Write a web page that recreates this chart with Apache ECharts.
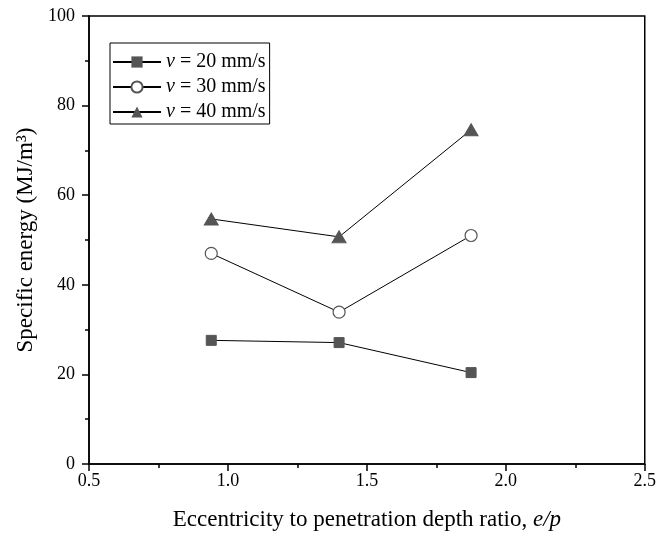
<!DOCTYPE html>
<html>
<head>
<meta charset="utf-8">
<script src="https://cdn.jsdelivr.net/npm/echarts@6/dist/echarts.min.js"></script>
<style>html,body{margin:0;padding:0;background:#fff}#c{width:659px;height:536px}</style>
</head>
<body>
<div id="c"></div>
<script>
const xValues = [0.94, 1.40, 1.875];
const v20 = [27.6, 27.1, 20.4];
const v30 = [47.0, 33.9, 51.0];
const v40 = [54.7, 50.7, 74.6];
const seriesNames = ['v = 20 mm/s', 'v = 30 mm/s', 'v = 40 mm/s'];
const xTicks = [0.5, 1.0, 1.5, 2.0, 2.5];
const yTicks = [0, 20, 40, 60, 80, 100];

const FONT = '"Liberation Serif", "Times New Roman", serif';
const chart = echarts.init(document.getElementById('c'), null, {renderer: 'canvas'});

function pairs(ys) { return ys.map((y, i) => [xValues[i], y]); }

const markerColor = '#555555';
const axisCommon = {
  axisLine: {show: true, lineStyle: {color: '#000', width: 1.5}},
  axisTick: {show: true, inside: false, length: 7, lineStyle: {color: '#000', width: 1.5}},
  minorTick: {show: true, splitNumber: 2, length: 4, lineStyle: {color: '#000', width: 1.5}},
  splitLine: {show: false},
  axisLabel: {color: '#000', fontFamily: FONT, fontSize: 18}
};

chart.setOption({
  animation: false,
  backgroundColor: '#fff',
  grid: {left: 89, right: 14, top: 16, bottom: 72, show: true, borderColor: '#000', borderWidth: 1.5, containLabel: false},
  xAxis: Object.assign({}, axisCommon, {
    type: 'value', min: xTicks[0], max: xTicks[xTicks.length - 1], interval: 0.5,
    axisLabel: Object.assign({}, axisCommon.axisLabel, {margin: 8, formatter: v => v.toFixed(1)}),
    name: 'Eccentricity to penetration depth ratio, {i|e/p}',
    nameLocation: 'middle', nameGap: 44,
    nameTextStyle: {color: '#000', fontFamily: FONT, fontSize: 23,
      rich: {i: {fontStyle: 'italic', fontFamily: FONT, fontSize: 23, color: '#000'}}}
  }),
  yAxis: Object.assign({}, axisCommon, {
    type: 'value', min: yTicks[0], max: yTicks[yTicks.length - 1], interval: 20,
    axisLabel: Object.assign({}, axisCommon.axisLabel, {margin: 14}),
    name: 'Specific energy (MJ/m³)',
    nameLocation: 'middle', nameGap: 36,
    nameTextStyle: {color: '#000', fontFamily: FONT, fontSize: 23}
  }),
  legend: {
    orient: 'vertical', left: 110, top: 43,
    padding: [9, 4, 2, 2],
    itemWidth: 48, itemHeight: 14, itemGap: 5,
    borderColor: '#000', borderWidth: 1, borderRadius: 0,
    backgroundColor: '#fff',
    data: seriesNames,
    formatter: name => '{i|v}{t|' + name.slice(1) + '}',
    textStyle: {color: '#000', fontFamily: FONT, fontSize: 20, padding: [0, 0, 0, 0],
      rich: {i: {fontStyle: 'italic', fontFamily: FONT, fontSize: 20, color: '#000'},
             t: {fontFamily: FONT, fontSize: 20, color: '#000'}}}
  },
  series: [
    {name: seriesNames[0], type: 'line', data: pairs(v20), symbol: 'rect', symbolSize: 10,
     itemStyle: {color: markerColor, borderColor: markerColor},
     lineStyle: {color: '#000', width: 1}},
    {name: seriesNames[1], type: 'line', data: pairs(v30), symbol: 'circle', symbolSize: 12,
     itemStyle: {color: '#fff', borderColor: markerColor, borderWidth: 1.2},
     lineStyle: {color: '#000', width: 1}},
    {name: seriesNames[2], type: 'line', data: pairs(v40), symbol: 'triangle', symbolSize: [14, 12],
     itemStyle: {color: markerColor, borderColor: markerColor},
     lineStyle: {color: '#000', width: 1}}
  ]
});
</script>
</body>
</html>
